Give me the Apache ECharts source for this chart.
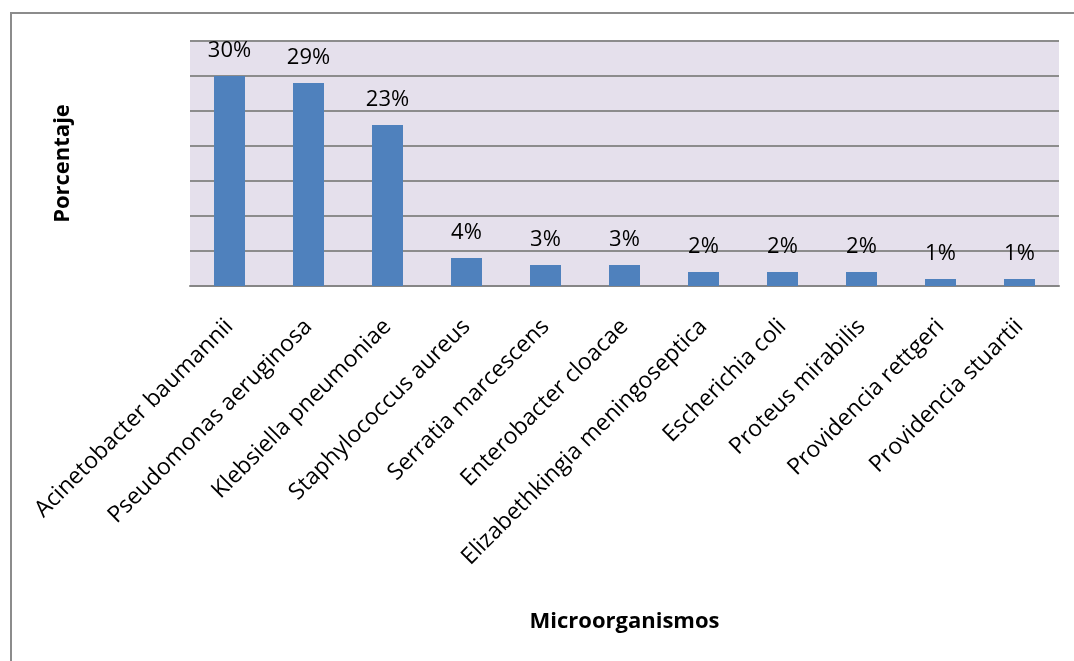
<!DOCTYPE html>
<html>
<head>
<meta charset="utf-8">
<script src="https://cdn.jsdelivr.net/npm/echarts@6/dist/echarts.min.js"></script>
<style>
  html, body { margin: 0; padding: 0; background: #fff; }
  #frame { position: absolute; left: 10px; top: 12px; width: 1200px; height: 800px; border: 2px solid #8c8c8c; box-sizing: border-box; }
  #chart { position: absolute; left: 0; top: 0; width: 1074px; height: 661px; }
</style>
</head>
<body>
<div id="frame"></div>
<div id="chart"></div>
<script>
const categories = [
  'Acinetobacter baumannii', 'Pseudomonas aeruginosa', 'Klebsiella pneumoniae',
  'Staphylococcus aureus', 'Serratia marcescens', 'Enterobacter cloacae',
  'Elizabethkingia meningoseptica', 'Escherichia coli', 'Proteus mirabilis',
  'Providencia rettgeri', 'Providencia stuartii'
];
const percentages = [30, 29, 23, 4, 3, 3, 2, 2, 2, 1, 1];

const font = '"Open Sans", sans-serif';
const chart = echarts.init(document.getElementById('chart'));
chart.setOption({
  animation: false,
  grid: {
    left: 190, right: 15, top: 41, bottom: 375,
    show: true, backgroundColor: '#e5e0ec', borderWidth: 0
  },
  xAxis: {
    type: 'category',
    data: categories,
    name: 'Microorganismos',
    nameLocation: 'middle',
    nameGap: 325,
    nameTextStyle: { fontFamily: font, fontSize: 22, fontWeight: 'bold', color: '#000' },
    axisLine: { lineStyle: { color: '#868686', width: 2 } },
    axisTick: { length: 6, lineStyle: { color: '#868686', width: 2 } },
    axisLabel: { rotate: 45, margin: 37, fontFamily: font, fontSize: 23, color: '#000', interval: 0 }
  },
  yAxis: {
    type: 'value',
    min: 0, max: 35, interval: 5,
    name: 'Porcentaje',
    nameLocation: 'middle',
    nameGap: 116,
    nameTextStyle: { fontFamily: font, fontSize: 22, fontWeight: 'bold', color: '#000' },
    axisLabel: { show: false },
    axisLine: { show: false },
    axisTick: { show: false },
    splitLine: { lineStyle: { color: '#8c8c8c', width: 2 } }
  },
  series: [{
    type: 'bar',
    data: percentages,
    barWidth: 31,
    itemStyle: { color: '#4f81bd' },
    label: {
      show: true, position: 'top', distance: 14,
      formatter: '{c}%', fontFamily: font, fontSize: 22, color: '#000'
    }
  }]
});
</script>
</body>
</html>
